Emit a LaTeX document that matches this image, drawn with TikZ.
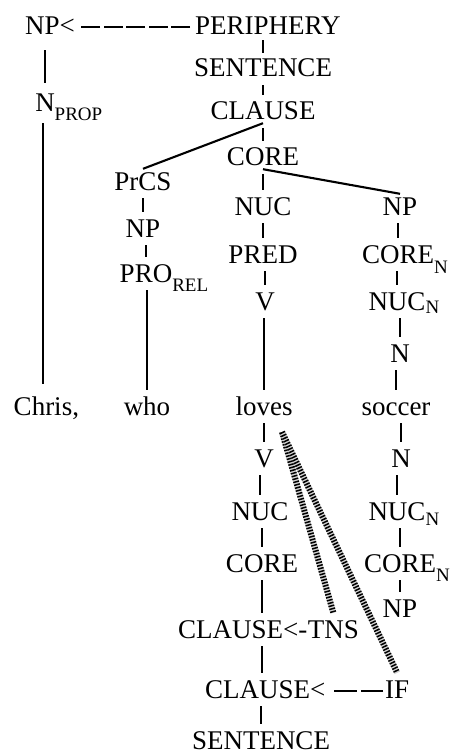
\documentclass[tikz,border=0pt]{standalone}
\usepackage{fontspec}
\setmainfont{Liberation Serif}
\usepackage{tikz}
\usetikzlibrary{positioning}

\newcommand\lsub[2][9pt]{\rlap{\raisebox{-#1}{\fontsize{19}{20}\selectfont #2}}}

\begin{document}
\begin{tikzpicture}[x=1pt,y=-1pt,
    font=\fontsize{27}{30}\selectfont,
    lbl/.style={anchor=base,inner xsep=0pt,inner ysep=3pt,
      text height=18pt,text depth=0pt},
    lblw/.style={lbl,anchor=base west},
    tree/.style={line width=1.5pt,shorten <=5pt,shorten >=4pt},
    branch/.style={line width=2.1pt},
    oplink/.style={line width=1.3pt},
    hatch/.style={line width=6pt,black,dash pattern=on 1.5pt off 1.5pt,
      preaction={draw,line width=6pt,gray!35,solid}}]
  \useasboundingbox (0,0) rectangle (451,754);

  % upper half: periphery, clause and the constituent projection
  \node[lblw] (npL)   at (25,35)   {NP<};
  \node[lblw] (peri)  at (195,35)  {PERIPHERY};
  \node[lbl]  (sentA) at (263,77)  {SENTENCE};
  \node[lbl]  (clauseA) at (263,120) {CLAUSE};
  \node[lbl]  (coreA) at (263,166) {CORE};
  \node[lbl]  (prcs)  at (143,190) {PrCS};
  \node[lbl]  (nprop) at (45,112)  {N\lsub{PROP}};
  \node[lbl]  (nucA)  at (263,215) {NUC};
  \node[lbl]  (npB)   at (400,215) {NP};
  \node[lbl]  (npC)   at (143,237) {NP};
  \node[lbl]  (pred)  at (263,263) {PRED};
  \node[lbl]  (coreNA) at (398,263) {CORE\lsub[10pt]{N}};
  \node[lbl]  (proRel) at (146,282) {PRO\lsub{REL}};
  \node[lbl]  (vA)    at (265,310) {V};
  \node[lbl]  (nucNA) at (397,310) {NUC\lsub[3pt]{N}};
  \node[lbl]  (nA)    at (400,362) {N};

  % the sentence itself
  \node[lbl] (chris)  at (43,415)  {Chris\rlap{,}};
  \node[lbl] (who)    at (147,415) {who};
  \node[lbl] (loves)  at (264,415) {loves};
  \node[lbl] (soccer) at (396,415) {soccer};

  % lower half: operator projection
  \node[lbl]  (vB)     at (264,467) {V};
  \node[lbl]  (nB)     at (401,467) {N};
  \node[lbl]  (nucB)   at (260,520) {NUC};
  \node[lbl]  (nucNB)  at (397,520) {NUC\lsub[5pt]{N}};
  \node[lbl]  (coreB)  at (262,572) {CORE};
  \node[lbl]  (coreNB) at (400,572) {CORE\lsub[9pt]{N}};
  \node[lbl]  (npD)    at (400,617) {NP};
  \node[lblw] (clT)    at (178,638) {CLAUSE<-};
  \node[lblw] (tns)    at (clT.base east) {TNS};
  \node[lblw] (clIF)   at (205,698) {CLAUSE<};
  \node[lblw] (ifop)   at (385,698) {IF};
  \node[lbl]  (sentB)  at (261,749) {SENTENCE};

  \coordinate (opsrc) at (282,432);

  % periphery link and the operator links (dashes counted from the right)
  \draw[oplink,dash pattern=on 19pt off 3.5pt on 19pt off 3.5pt on 19pt off 3.5pt
        on 19pt off 3.5pt on 19pt off 60pt]
    ([xshift=-5pt,yshift=8pt]peri.base west) -- ([yshift=8pt]npL.base east);
  \draw[oplink,dash pattern=on 22.5pt off 4pt on 22.5pt off 60pt]
    ([xshift=-2pt,yshift=7pt]ifop.base west) -- ([yshift=7pt]clIF.base east);

  \draw[tree,shorten <=2pt,shorten >=3pt] (peri.south -| sentA) -- (sentA.north);
  \foreach \a/\b in {sentA/clauseA,clauseA/coreA,coreA/nucA,nucA/pred,pred/vA,
                     vA/loves,npC/proRel,prcs/npC,proRel/who,
                     npB/coreNA,coreNA/nucNA,nucNA/nA,nA/soccer,
                     loves/vB,vB/nucB,nucB/coreB,
                     soccer/nB,nB/nucNB,nucNB/coreNB,coreNB/npD}
    \draw[tree] (\a.south -| \b) -- (\b.north);
  \draw[tree] (coreB.south) -- (coreB.south |- clT.north);
  \draw[tree] (clT.south -| coreB) -- (clIF.north -| coreB);
  \draw[tree] (clIF.south -| sentB) -- (sentB.north);
  \draw[tree,shorten <=12pt,shorten >=8pt] (npL.south -| nprop) -- (nprop.north);
  \draw[tree,shorten <=8pt,shorten >=10pt] (nprop.south -| chris) -- (chris.north);

  \draw[branch] (clauseA.south) -- (prcs.north);
  \draw[branch] (coreA.south) -- (npB.north);

  \draw[hatch] (opsrc) -- ([yshift=4pt]tns.north);
  \draw[hatch] (opsrc) -- ([yshift=4pt]ifop.north);
\end{tikzpicture}
\end{document}
